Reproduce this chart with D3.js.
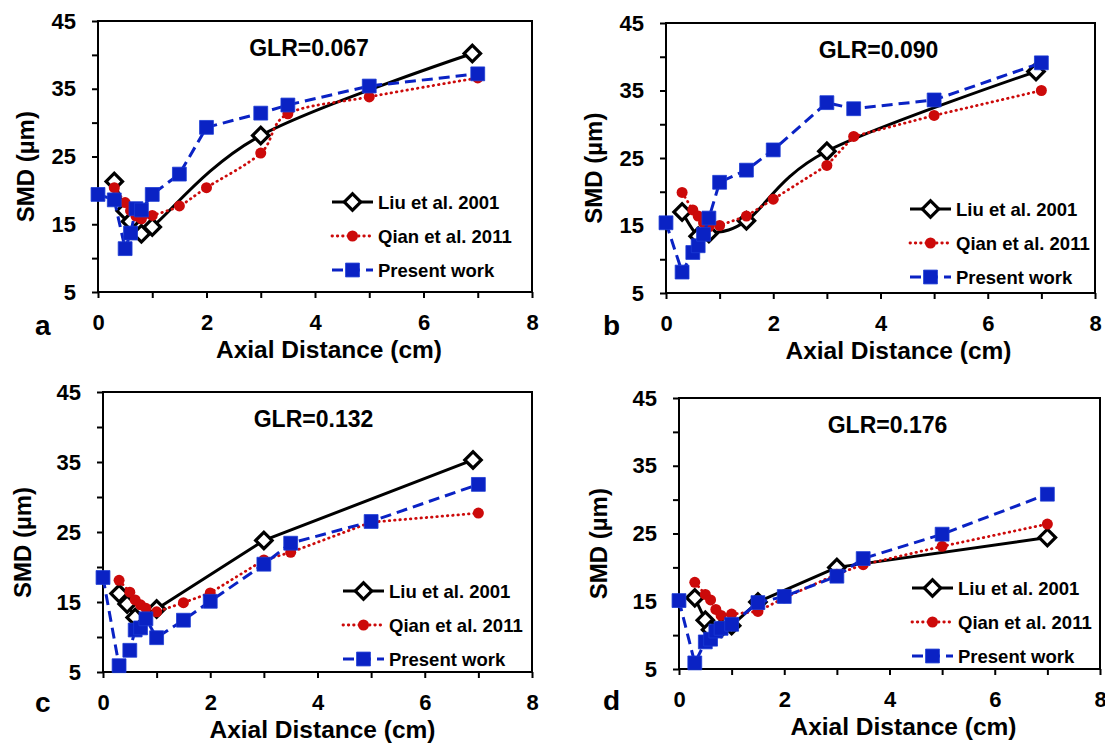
<!DOCTYPE html>
<html>
<head>
<meta charset="utf-8">
<script src="https://cdn.jsdelivr.net/npm/d3@7"></script>
<style>
  body { margin: 0; background: #fff; }
  svg text { font-family: "Liberation Sans", Arial, sans-serif; font-weight: bold; fill: #000; }
</style>
</head>
<body>
<svg id="chart" width="1105" height="744"></svg>
<script>
// ---- axis ticks ----
const X_TICKS = [0, 1, 2, 3, 4, 5, 6, 7, 8];
const X_LABELS = [0, 2, 4, 6, 8];
const Y_TICKS = [5, 10, 15, 20, 25, 30, 35, 40, 45];
const Y_LABELS = [5, 15, 25, 35, 45];

const SERIES_NAMES = ["Liu et al. 2001", "Qian et al. 2011", "Present work"];
const PANEL_LETTERS = ["a", "b", "c", "d"];
const GLR_LABELS = ["GLR=0.067", "GLR=0.090", "GLR=0.132", "GLR=0.176"];

// ---- SMD (µm) vs axial distance (cm) ----
// GLR = 0.067
const liuA_x  = [0.3, 0.5, 0.6, 0.8, 1.0, 3.0, 6.9];
const liuA_y  = [21.3, 17.0, 15.4, 13.6, 14.6, 28.1, 40.2];
const qianA_x = [0.3, 0.5, 0.6, 0.7, 0.8, 1.0, 1.5, 2, 3, 3.5, 5, 7];
const qianA_y = [20.4, 18.2, 17.0, 16.2, 15.8, 16.3, 17.7, 20.4, 25.5, 31.3, 33.8, 36.6];
const presA_x = [0, 0.3, 0.5, 0.6, 0.7, 0.8, 1.0, 1.5, 2, 3, 3.5, 5, 7];
const presA_y = [19.4, 18.6, 11.4, 13.7, 17.3, 17.1, 19.4, 22.4, 29.3, 31.4, 32.6, 35.4, 37.2];

// GLR = 0.090
const liuB_x  = [0.3, 0.6, 0.8, 1.5, 3.0, 6.9];
const liuB_y  = [17.0, 13.4, 13.8, 15.7, 26.0, 37.8];
const qianB_x = [0.3, 0.5, 0.6, 0.7, 0.8, 1.0, 1.5, 2, 3, 3.5, 5, 7];
const qianB_y = [19.9, 17.3, 16.4, 15.4, 14.8, 15.0, 16.4, 18.9, 23.9, 28.2, 31.3, 35.0];
const presB_x = [0, 0.3, 0.5, 0.6, 0.7, 0.8, 1.0, 1.5, 2, 3, 3.5, 5, 7];
const presB_y = [15.4, 8.1, 11.0, 12.0, 13.7, 16.1, 21.4, 23.2, 26.2, 33.2, 32.3, 33.6, 39.1];

// GLR = 0.132
const liuC_x  = [0.3, 0.45, 0.6, 1.0, 3.0, 6.9];
const liuC_y  = [16.2, 14.7, 12.8, 14.0, 23.8, 35.3];
const qianC_x = [0.3, 0.5, 0.6, 0.7, 0.8, 1.0, 1.5, 2, 3, 3.5, 5, 7];
const qianC_y = [18.1, 16.4, 15.3, 14.6, 14.1, 13.6, 14.9, 16.3, 21.0, 22.1, 26.4, 27.7];
const presC_x = [0, 0.3, 0.5, 0.6, 0.7, 0.8, 1.0, 1.5, 2, 3, 3.5, 5, 7];
const presC_y = [18.5, 5.9, 8.1, 11.0, 11.3, 12.6, 9.9, 12.4, 15.1, 20.4, 23.4, 26.5, 31.8];

// GLR = 0.176
const liuD_x  = [0.3, 0.5, 0.6, 0.8, 1.0, 1.5, 3.0, 7.0];
const liuD_y  = [15.5, 12.2, 10.8, 11.0, 11.4, 14.9, 20.0, 24.4];
const qianD_x = [0.3, 0.5, 0.6, 0.7, 0.8, 1.0, 1.5, 2, 3, 3.5, 5, 7];
const qianD_y = [17.8, 16.0, 15.2, 13.8, 12.9, 13.1, 13.5, 15.5, 19.0, 20.4, 23.1, 26.4];
const presD_x = [0, 0.3, 0.5, 0.6, 0.7, 0.8, 1.0, 1.5, 2, 3, 3.5, 5, 7];
const presD_y = [15.1, 5.9, 9.0, 9.4, 10.6, 11.0, 11.6, 14.8, 15.7, 18.7, 21.3, 24.9, 30.8];

const zip = (xs, ys) => xs.map((v, i) => [v, ys[i]]);

const panels = [
  { liu: zip(liuA_x, liuA_y), qian: zip(qianA_x, qianA_y), pres: zip(presA_x, presA_y), smoothLiu: true,  smoothQian: true },
  { liu: zip(liuB_x, liuB_y), qian: zip(qianB_x, qianB_y), pres: zip(presB_x, presB_y), smoothLiu: true,  smoothQian: false },
  { liu: zip(liuC_x, liuC_y), qian: zip(qianC_x, qianC_y), pres: zip(presC_x, presC_y), smoothLiu: false, smoothQian: false },
  { liu: zip(liuD_x, liuD_y), qian: zip(qianD_x, qianD_y), pres: zip(presD_x, presD_y), smoothLiu: false, smoothQian: false }
];

// ---- page layout (pixels) ----
const frames = [
  { left: 98,  right: 532,  top: 21,  bottom: 292, legX: 332, legY: 202, titleDx: -6, xTitleDx: 14, yTitleDx: -64, letterX: 35,  letterY: 335 },
  { left: 666, right: 1095, top: 23,  bottom: 293, legX: 910, legY: 209, titleDx: -2, xTitleDx: 18, yTitleDx: -64, letterX: 603, letterY: 335 },
  { left: 103, right: 532,  top: 392, bottom: 672, legX: 343, legY: 591, titleDx: -4, xTitleDx: 5,  yTitleDx: -72, letterX: 35,  letterY: 712 },
  { left: 679, right: 1100, top: 398, bottom: 669, legX: 912, legY: 588, titleDx: -2, xTitleDx: 14, yTitleDx: -72, letterX: 603, letterY: 710 }
];

const BLUE = "#0a22c4";
const RED = "#cc0a0a";

const svg = d3.select("#chart");

function drawMarker(sel, kind) {
  if (kind === "liu") {
    sel.append("path")
      .attr("d", d3.symbol(d3.symbolSquare, 135)())
      .attr("transform", "rotate(45)")
      .attr("fill", "#fff").attr("stroke", "#000").attr("stroke-width", 3.2);
  } else if (kind === "qian") {
    sel.append("circle").attr("r", 5.5).attr("fill", RED);
  } else {
    sel.append("path")
      .attr("d", d3.symbol(d3.symbolSquare, 192)())
      .attr("fill", BLUE).attr("stroke", "#1c3bd4").attr("stroke-width", 0.8);
  }
}

const lineStyle = {
  liu:  { stroke: "#000", width: 3,   dash: null,      cap: "butt" },
  qian: { stroke: RED,    width: 2.8, dash: "0.5 4.8", cap: "round" },
  pres: { stroke: BLUE,   width: 3,   dash: "11 6",    cap: "butt" }
};

panels.forEach((p, i) => {
  const f = frames[i];
  const x = d3.scaleLinear().domain([0, 8]).range([f.left, f.right]);
  const y = d3.scaleLinear().domain([5, 45]).range([f.bottom, f.top]);
  const g = svg.append("g");

  // y axis ticks and labels
  const yAxis = d3.axisLeft(y).tickValues(Y_TICKS).tickSize(6).tickPadding(16)
    .tickFormat(d => Y_LABELS.includes(d) ? d : "");
  const ya = g.append("g").attr("transform", `translate(${f.left},0)`).call(yAxis);
  // x axis ticks and labels
  const xAxis = d3.axisBottom(x).tickValues(X_TICKS).tickSize(6).tickPadding(16)
    .tickFormat(d => X_LABELS.includes(d) ? d : "");
  const xa = g.append("g").attr("transform", `translate(0,${f.bottom})`).call(xAxis);
  [ya, xa].forEach(a => {
    a.select(".domain").remove();
    a.selectAll(".tick line").attr("stroke", "#000").attr("stroke-width", 2);
    a.selectAll(".tick text").style("font-size", "22px").attr("fill", "#000");
  });

  // plot frame
  g.append("rect")
    .attr("x", f.left).attr("y", f.top)
    .attr("width", f.right - f.left).attr("height", f.bottom - f.top)
    .attr("fill", "none").attr("stroke", "#000").attr("stroke-width", 2);

  // series
  const keys = ["liu", "qian", "pres"];
  keys.forEach(k => {
    const smooth = (k === "liu" && p.smoothLiu) || (k === "qian" && p.smoothQian);
    const line = d3.line().x(d => x(d[0])).y(d => y(d[1]))
      .curve(smooth ? d3.curveCatmullRom.alpha(0) : d3.curveLinear);
    const st = lineStyle[k];
    g.append("path").datum(p[k]).attr("d", line)
      .attr("fill", "none").attr("stroke", st.stroke).attr("stroke-width", st.width)
      .attr("stroke-dasharray", st.dash).attr("stroke-linecap", st.cap)
      .attr("stroke-linejoin", "round");
    g.append("g").selectAll("g").data(p[k]).join("g")
      .attr("transform", d => `translate(${x(d[0])},${y(d[1])})`)
      .each(function () { drawMarker(d3.select(this), k); });
  });

  // GLR title
  g.append("text").attr("x", (f.left + f.right) / 2 + f.titleDx).attr("y", f.top + 35)
    .attr("text-anchor", "middle").style("font-size", "23px").text(GLR_LABELS[i]);

  // legend
  keys.forEach((k, j) => {
    const ly = f.legY + j * 34;
    const st = lineStyle[k];
    const lg = g.append("g");
    lg.append("line").attr("x1", f.legX).attr("x2", f.legX + 41).attr("y1", ly).attr("y2", ly)
      .attr("stroke", st.stroke).attr("stroke-width", st.width)
      .attr("stroke-dasharray", st.dash).attr("stroke-linecap", st.cap);
    const m = lg.append("g").attr("transform", `translate(${f.legX + 20.5},${ly})`);
    drawMarker(m, k);
    lg.append("text").attr("x", f.legX + 46).attr("y", ly + 6.6)
      .style("font-size", "18.5px").text(SERIES_NAMES[j]);
  });

  // axis titles
  g.append("text").attr("x", (f.left + f.right) / 2 + f.xTitleDx).attr("y", f.bottom + 66)
    .attr("text-anchor", "middle").style("font-size", "24.5px").text("Axial Distance (cm)");
  g.append("text")
    .attr("transform", `translate(${f.left + f.yTitleDx},${y(23.5)}) rotate(-90)`)
    .attr("text-anchor", "middle").style("font-size", "24px").text("SMD (µm)");

  // panel letter
  g.append("text").attr("x", f.letterX).attr("y", f.letterY)
    .style("font-size", "28px").text(PANEL_LETTERS[i]);
});
</script>
</body>
</html>
